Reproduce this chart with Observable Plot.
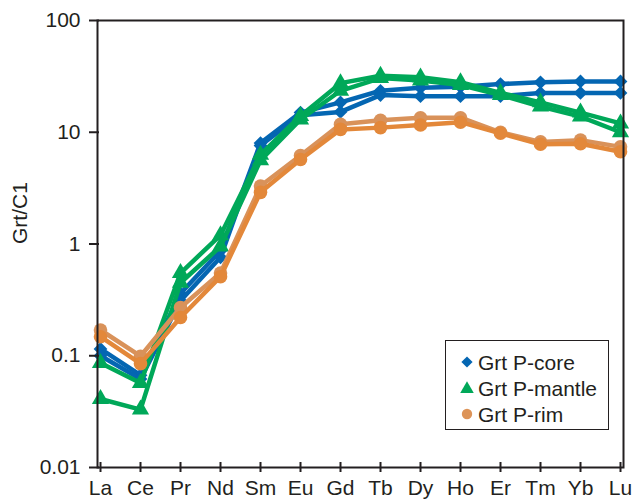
<!DOCTYPE html>
<html><head><meta charset="utf-8">
<script src="https://cdn.jsdelivr.net/npm/d3@7"></script>
<script src="https://cdn.jsdelivr.net/npm/@observablehq/plot@0.6"></script>
<style>
body{margin:0;background:#fff;font-family:"Liberation Sans",Arial,sans-serif;}
#chart{width:635px;height:500px;}
</style>
</head><body><div id="chart"></div>
<script>
const elements = ["La","Ce","Pr","Nd","Sm","Eu","Gd","Tb","Dy","Ho","Er","Tm","Yb","Lu"];
const core1   = [0.115, 0.067, 0.36, 0.87, 8.0, 15.0, 18.5, 23.5, 25.0, 25.5, 27.0, 28.0, 28.5, 28.5];
const core2   = [0.100, 0.062, 0.31, 0.76, 7.6, 14.2, 15.2, 21.5, 21.0, 21.0, 21.0, 22.5, 22.5, 22.5];
const mantle1 = [0.086, 0.057, 0.55, 1.20, 6.3, 14.0, 27.5, 32.0, 31.0, 28.0, 22.5, 18.5, 15.0, 12.0];
const mantle2 = [0.041, 0.033, 0.45, 0.95, 5.6, 13.0, 23.5, 30.5, 29.0, 26.5, 21.5, 17.0, 13.8, 10.0];
const rim1    = [0.170, 0.099, 0.27, 0.55, 3.3, 6.2, 11.8, 12.8, 13.5, 13.5, 10.0, 8.2, 8.5, 7.4];
const rim2    = [0.148, 0.085, 0.22, 0.51, 2.9, 5.7, 10.6, 11.0, 11.6, 12.3, 9.8, 7.8, 7.9, 6.7];
const seriesNames = ["Grt P-core", "Grt P-mantle", "Grt P-rim"];
const yTicks = [0.01, 0.1, 1, 10, 100];
const yTickLabels = ["0.01", "0.1", "1", "10", "100"];
const yLabel = "Grt/C1";

const ink = "#231f20";
const styles = [
  {color: "#0466b2", symbol: "diamond2", r: 6.2},
  {color: "#00a859", symbol: "triangle", r: 6.4},
  {color: "#df8b42", symbol: "circle", r: 6.8}
];
const profiles = [
  {s: 0, values: core1, color: "#0466b2"},
  {s: 0, values: core2, color: "#0466b2"},
  {s: 1, values: mantle1, color: "#00a859"},
  {s: 1, values: mantle2, color: "#00a859"},
  {s: 2, values: rim1, color: "#d9925a"},
  {s: 2, values: rim2, color: "#e3883a"}
];

const marks = [];
for (const p of profiles) {
  const rows = elements.map((el, i) => ({el, v: p.values[i]}));
  marks.push(Plot.line(rows, {x: "el", y: "v", stroke: p.color, strokeWidth: 4.5, strokeLinejoin: "round"}));
  marks.push(Plot.dot(rows, {x: "el", y: "v", fill: p.color, stroke: "none", symbol: styles[p.s].symbol, r: styles[p.s].r}));
}

function legend(index, scales, values, dims) {
  const g = d3.create("svg:g");
  g.append("rect").attr("x", 445.5).attr("y", 340.5).attr("width", 163).attr("height", 89)
    .attr("fill", "white").attr("stroke", ink).attr("stroke-width", 1);
  const ys = [362, 388, 414];
  const syms = [d3.symbolDiamond2, d3.symbolTriangle, d3.symbolCircle];
  const sizes = [80, 80, 85];
  seriesNames.forEach((name, i) => {
    g.append("path").attr("d", d3.symbol(syms[i], sizes[i])())
      .attr("transform", `translate(467,${ys[i] + (i === 1 ? 1 : 0)})`)
      .attr("fill", i === 2 ? "#dd9458" : styles[i].color);
    g.append("text").attr("x", 478).attr("y", ys[i] + 7.5).attr("fill", ink)
      .attr("text-anchor", "start")
      .attr("font-size", 21).attr("font-family", "'Liberation Sans', Arial, sans-serif").text(name);
  });
  return g.node();
}

const chart = Plot.plot({
  width: 635,
  height: 500,
  marginLeft: 97,
  marginRight: 12,
  marginTop: 20,
  marginBottom: 33,
  style: {fontFamily: "'Liberation Sans', Arial, sans-serif", background: "white"},
  x: {type: "point", domain: elements, padding: 0},
  y: {type: "log", domain: [0.01, 100]},
  marks: [
    ...marks,
    Plot.frame({stroke: ink, strokeWidth: 2}),
    Plot.axisX({tickSize: 10, dy: -5, tickPadding: 8, fontSize: 21, color: ink, strokeWidth: 2, label: null}),
    Plot.axisY(yTicks, {tickSize: 10, dx: 2, tickPadding: 9, fontSize: 21, color: ink, strokeWidth: 2,
      tickFormat: d => yTickLabels[yTicks.indexOf(d)], label: null}),
    Plot.text([yLabel], {frameAnchor: "left", dx: -77, rotate: -90, fontSize: 21, fill: ink}),
    legend
  ]
});
document.getElementById("chart").append(chart);
</script>
</body></html>
